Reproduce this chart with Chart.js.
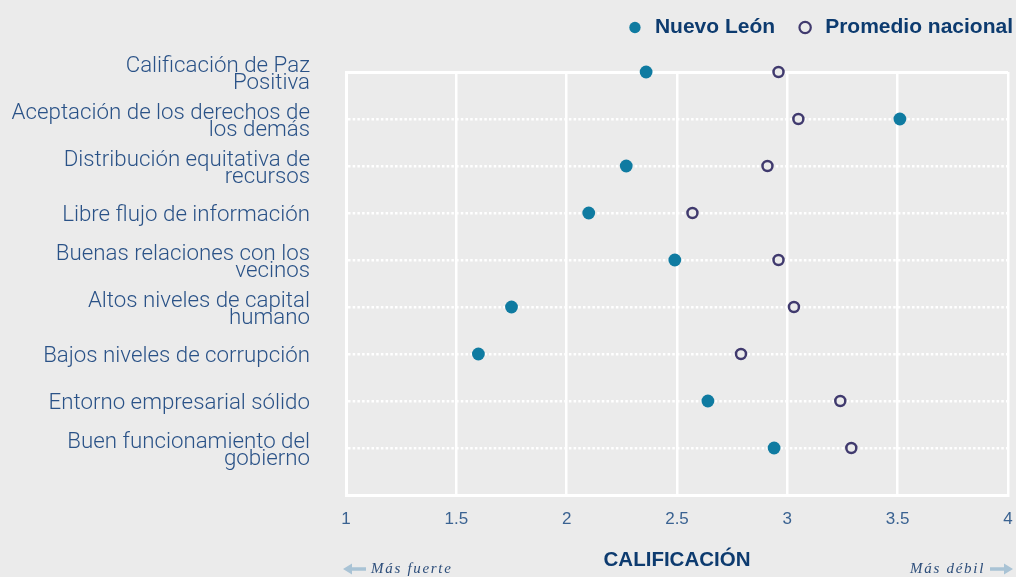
<!DOCTYPE html>
<html>
<head>
<meta charset="utf-8">
<script src="https://cdn.jsdelivr.net/npm/chart.js@4/dist/chart.umd.min.js"></script>
<style>
  html, body { margin: 0; padding: 0; background: #ebebeb; }
  #wrap { width: 1016px; height: 577px; position: relative; }
</style>
</head>
<body>
<div id="wrap"><canvas id="c" width="1016" height="577"></canvas></div>
<script>
const categories = [
  "Calificación de Paz\nPositiva",
  "Aceptación de los derechos de\nlos demás",
  "Distribución equitativa de\nrecursos",
  "Libre flujo de información",
  "Buenas relaciones con los\nvecinos",
  "Altos niveles de capital\nhumano",
  "Bajos niveles de corrupción",
  "Entorno empresarial sólido",
  "Buen funcionamiento del\ngobierno"
];
const nuevoLeon = [2.36, 3.51, 2.27, 2.10, 2.49, 1.75, 1.60, 2.64, 2.94];
const promedioNacional = [2.96, 3.05, 2.91, 2.57, 2.96, 3.03, 2.79, 3.24, 3.29];
const xTickValues = [1, 1.5, 2, 2.5, 3, 3.5, 4];
const seriesNames = ["Nuevo León", "Promedio nacional"];
const axisTitle = "CALIFICACIÓN";
const leftNote = "Más fuerte";
const rightNote = "Más débil";

const BG = '#ebebeb';

const legendTopPlugin = {
  id: 'legendTop',
  afterLayout(chart) {
    const lg = chart.legend;
    if (lg) {
      const h = lg.height;
      lg.top = 14;
      lg.bottom = 14 + h;
    }
  }
};

const notesPlugin = {
  id: 'notes',
  afterDraw(chart) {
    const ctx = chart.ctx;
    const area = chart.chartArea;
    const y = 569;
    ctx.save();
    const drawArrow = (x0, x1, dir) => {
      ctx.fillStyle = '#a9c3d5';
      ctx.beginPath();
      const head = 9, hh = 5.5, sh = 1.7;
      if (dir < 0) {
        ctx.moveTo(x0, y);
        ctx.lineTo(x0 + head, y - hh);
        ctx.lineTo(x0 + head, y - sh);
        ctx.lineTo(x1, y - sh);
        ctx.lineTo(x1, y + sh);
        ctx.lineTo(x0 + head, y + sh);
        ctx.lineTo(x0 + head, y + hh);
      } else {
        ctx.moveTo(x1, y);
        ctx.lineTo(x1 - head, y - hh);
        ctx.lineTo(x1 - head, y - sh);
        ctx.lineTo(x0, y - sh);
        ctx.lineTo(x0, y + sh);
        ctx.lineTo(x1 - head, y + sh);
        ctx.lineTo(x1 - head, y + hh);
      }
      ctx.closePath();
      ctx.fill();
    };
    drawArrow(area.left - 3, area.left + 20, -1);
    drawArrow(area.right - 18, area.right + 5, 1);
    ctx.font = 'italic 15px "Liberation Serif", serif';
    ctx.fillStyle = '#2c4d7a';
    ctx.textBaseline = 'middle';
    ctx.letterSpacing = '1.7px';
    ctx.textAlign = 'left';
    ctx.fillText(leftNote, area.left + 25, y + 0.5);
    ctx.textAlign = 'right';
    ctx.fillText(rightNote, area.right - 23, y + 0.5);
    ctx.restore();
  }
};

new Chart(document.getElementById('c'), {
  type: 'scatter',
  data: {
    datasets: [
      {
        label: seriesNames[0] + '   ',
        data: nuevoLeon.map((v, i) => ({ x: v, y: i })),
        pointRadius: 6.4,
        backgroundColor: '#0f7ba1',
        borderColor: '#0f7ba1',
        borderWidth: 0,
        clip: false
      },
      {
        label: seriesNames[1],
        data: promedioNacional.map((v, i) => ({ x: v, y: i })),
        pointRadius: 5,
        backgroundColor: BG,
        borderColor: '#403a6e',
        borderWidth: 2.5,
        clip: false
      }
    ]
  },
  plugins: [legendTopPlugin, notesPlugin],
  options: {
    responsive: false,
    animation: false,
    events: [],
    layout: { padding: { top: 8, left: 0, right: 0, bottom: 0 } },
    plugins: {
      tooltip: { enabled: false },
      legend: {
        position: 'top',
        align: 'end',
        labels: {
          usePointStyle: true,
          pointStyle: 'circle',
          boxWidth: 19,
          boxHeight: 8,
          padding: 3,
          color: '#0d3b6f',
          font: { family: '"Liberation Sans", Arial, sans-serif', size: 21, weight: 'bold' },
          generateLabels: (chart) => {
            const items = Chart.defaults.plugins.legend.labels.generateLabels(chart);
            items.forEach((it, i) => { if (i === 1) it.lineWidth = 2.2; });
            return items;
          }
        }
      }
    },
    scales: {
      x: {
        type: 'linear',
        min: 1,
        max: 4,
        afterBuildTicks: (scale) => { scale.ticks = xTickValues.map(v => ({ value: v })); },
        afterFit: (scale) => { scale.height = 82; scale.paddingRight = 8; scale.paddingLeft = 0; },
        grid: { color: '#ffffff', lineWidth: 2.5, drawTicks: false },
        border: { display: true, color: '#ffffff', width: 3 },
        ticks: {
          padding: 14,
          color: '#3a6291',
          font: { family: '"Liberation Sans Narrow", "Liberation Sans", sans-serif', size: 17 },
          callback: (v) => String(v)
        },
        title: {
          display: true,
          text: axisTitle,
          color: '#0d3b6f',
          font: { family: '"Liberation Sans", Arial, sans-serif', size: 20.5, weight: 'bold' },
          padding: { top: 0, bottom: 4 }
        }
      },
      y: {
        type: 'linear',
        reverse: true,
        min: 0,
        max: 9,
        afterBuildTicks: (scale) => {
          const t = [];
          for (let i = 0; i <= categories.length; i++) t.push({ value: i });
          scale.ticks = t;
        },
        afterFit: (scale) => { scale.width = 346; scale.paddingTop = 72; },
        grid: {
          color: '#ffffff',
          drawTicks: false,
          lineWidth: (ctx) => (ctx.tick && (ctx.tick.value === 0 || ctx.tick.value === categories.length)) ? 3 : 2.5
        },
        border: {
          display: true,
          color: '#ffffff',
          width: 3,
          dash: (ctx) => (ctx.tick && ctx.tick.value > 0 && ctx.tick.value < categories.length) ? [2.5, 2.2] : []
        },
        ticks: {
          padding: 36,
          labelOffset: 2.5,
          color: '#2a5287',
          font: { family: 'Roboto, sans-serif', size: 22.3, weight: 300, lineHeight: 0.76 },
          callback: (v) => {
            const s = categories[v];
            return s ? s.split('\n') : '';
          }
        }
      }
    }
  }
});
</script>
</body>
</html>
